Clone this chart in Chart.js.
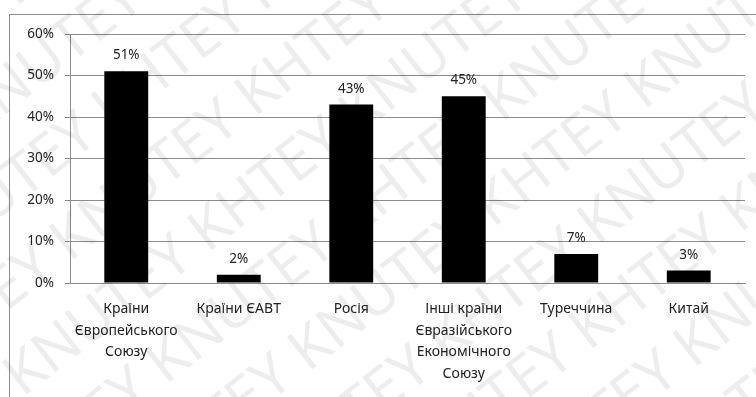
<!DOCTYPE html>
<html>
<head>
<meta charset="utf-8">
<script src="https://cdn.jsdelivr.net/npm/chart.js@4"></script>
<style>
  html, body { margin: 0; padding: 0; background: #fff; }
  #wrap { width: 756px; height: 397px; }
</style>
</head>
<body>
<div id="wrap"><canvas id="exportChart" width="756" height="397"></canvas></div>
<script>
const categories = [
    ['Країни', 'Європейського', 'Союзу'],
    'Країни ЄАВТ',
    'Росія',
    ['Інші країни', 'Євразійського', 'Економічного', 'Союзу'],
    'Туреччина',
    'Китай'
];
const shares = [51, 2, 43, 45, 7, 3];
const yTicks = [0, 10, 20, 30, 40, 50, 60];
const watermarkWords = ['KHTEY', 'KNUTEY'];

const FONT = '"Noto Sans", "Open Sans", sans-serif';

// frame around the whole chart
const framePlugin = {
    id: 'frame',
    beforeDraw(chart) {
        const ctx = chart.ctx;
        ctx.save();
        ctx.strokeStyle = '#8c8c8c';
        ctx.lineWidth = 1;
        ctx.strokeRect(9.5, 14.5, chart.width, chart.height);
        ctx.restore();
    }
};

// percentage above each bar
const valueLabels = {
    id: 'valueLabels',
    afterDatasetsDraw(chart) {
        const ctx = chart.ctx;
        const meta = chart.getDatasetMeta(0);
        ctx.save();
        ctx.font = '13.5px ' + FONT;
        ctx.fillStyle = '#222';
        ctx.textAlign = 'center';
        ctx.textBaseline = 'bottom';
        meta.data.forEach((bar, i) => {
            ctx.fillText(shares[i] + '%', bar.x, bar.y - 9);
        });
        ctx.restore();
    }
};

// faint diagonal watermark
const watermark = {
    id: 'watermark',
    afterDraw(chart) {
        const ctx = chart.ctx;
        ctx.save();
        ctx.font = '58px ' + FONT;
        ctx.fillStyle = 'rgba(0, 0, 0, 0.07)';
        ctx.textBaseline = 'middle';
        ctx.translate(chart.width / 2, chart.height / 2);
        ctx.rotate(-38 * Math.PI / 180);
        const line = (watermarkWords.join(' ') + ' ').repeat(5);
        for (let row = -6; row <= 6; row++) {
            const shift = (row % 2) * 120;
            ctx.fillText(line, -900 + shift, row * 78);
        }
        ctx.restore();
    }
};

new Chart(document.getElementById('exportChart'), {
    type: 'bar',
    data: {
        labels: categories,
        datasets: [{
            data: shares,
            backgroundColor: '#000',
            borderWidth: 0,
            barPercentage: 0.78,
            categoryPercentage: 0.5
        }]
    },
    options: {
        responsive: false,
        animation: false,
        events: [],
        layout: { padding: { top: 34, right: 11, left: 0, bottom: 0 } },
        plugins: {
            legend: { display: false },
            tooltip: { enabled: false }
        },
        scales: {
            x: {
                grid: { display: false, drawTicks: false },
                border: { color: '#8c8c8c' },
                ticks: {
                    color: '#222',
                    font: { family: FONT, size: 14, lineHeight: 1.55 },
                    padding: 15,
                    maxRotation: 0,
                    autoSkip: false
                },
                afterFit(scale) { scale.height = 114; }
            },
            y: {
                min: 0,
                max: 60,
                afterBuildTicks(scale) {
                    scale.ticks = yTicks.map(v => ({ value: v }));
                },
                grid: { color: '#8c8c8c', tickLength: 5 },
                border: { color: '#8c8c8c' },
                ticks: {
                    color: '#222',
                    font: { family: FONT, size: 13.5 },
                    padding: 11,
                    callback: v => v + '%'
                },
                afterFit(scale) { scale.width = 70; }
            }
        }
    },
    plugins: [framePlugin, valueLabels, watermark]
});
</script>
</body>
</html>
